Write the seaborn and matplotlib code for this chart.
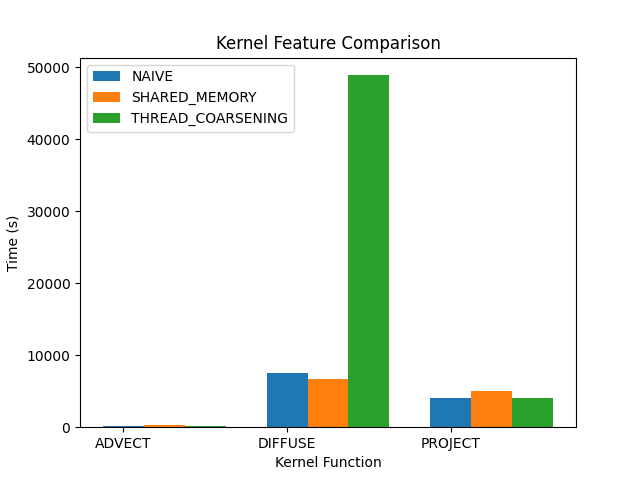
import numpy as np
import pandas as pd
import matplotlib
matplotlib.use("Agg")
import matplotlib.pyplot as plt
import seaborn as sns

kernels = ["ADVECT", "DIFFUSE", "PROJECT"]
naive = [150, 7500, 4030]
shared_memory = [250, 6670, 5000]
thread_coarsening = [150, 48900, 4030]

series = {
    "NAIVE": naive,
    "SHARED_MEMORY": shared_memory,
    "THREAD_COARSENING": thread_coarsening,
}
colors = ["#1f77b4", "#ff7f0e", "#2ca02c"]

x = np.arange(len(kernels))
width = 0.25

fig, ax = plt.subplots(figsize=(6.4, 4.8), dpi=100)
for i, (name, vals) in enumerate(series.items()):
    df = pd.DataFrame({"pos": x + i * width, "time": vals})
    sns.barplot(data=df, x="pos", y="time", native_scale=True, width=width,
                color=colors[i], saturation=1, errorbar=None, label=name, ax=ax)

ax.set_xticks(x)
ax.set_xticklabels(kernels)
ax.set_xlabel("Kernel Function")
ax.set_ylabel("Time (s)")
ax.set_title("Kernel Feature Comparison")
ax.legend()
fig.savefig("out.png")
